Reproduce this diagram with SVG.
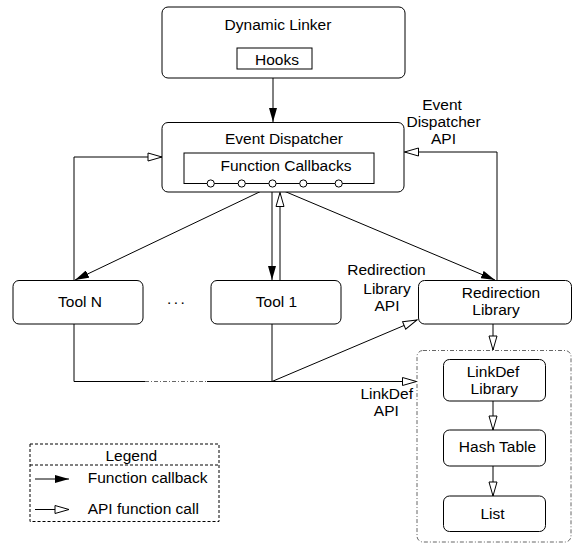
<svg xmlns="http://www.w3.org/2000/svg" width="572" height="544" viewBox="0 0 572 544">
<defs>
<style>
.box{fill:#fff;stroke:#000;stroke-width:1}
.ln{fill:none;stroke:#000;stroke-width:1}
.dd{fill:none;stroke:#666;stroke-width:1;stroke-dasharray:4 2 1 2}
.dash{fill:none;stroke:#000;stroke-width:1;stroke-dasharray:3 2}
text{font-family:"Liberation Sans",Arial,sans-serif;font-size:15.5px;fill:#000}
.c{text-anchor:middle}
.cb{fill:#fff;stroke:#000;stroke-width:1}
</style>
<marker id="fa" viewBox="0 0 14 8" refX="14" refY="4" markerWidth="14" markerHeight="8" orient="auto" markerUnits="userSpaceOnUse"><path d="M0,0 L14,4 L0,8 z" fill="#000"/></marker>
<marker id="oa" viewBox="-1 -1 16 10" refX="14" refY="4" markerWidth="16" markerHeight="10" orient="auto" markerUnits="userSpaceOnUse"><path d="M0,0 L14,4 L0,8 z" fill="#fff" stroke="#000" stroke-width="1"/></marker>
</defs>

<g id="linkdef-container"><rect x="417" y="350.5" width="154" height="191.5" rx="6" class="dd"/></g>

<g id="connectors">
<path class="ln" d="M273,69 V122" marker-end="url(#fa)"/>
<path class="ln" d="M272,186 L75,280" marker-end="url(#fa)"/>
<path class="ln" d="M272,187 V280" marker-end="url(#fa)"/>
<path class="ln" d="M272,186 L495,280" marker-end="url(#fa)"/>
<path class="ln" d="M280,280 V192.5" marker-end="url(#oa)"/>
<path class="ln" d="M74,280 V157 H162" marker-end="url(#oa)"/>
<path class="ln" d="M497,280 V152 H404.5" marker-end="url(#oa)"/>
<path class="ln" d="M74,324 V381.5 H145"/>
<path class="dd" d="M145,381.5 H207"/>
<path class="ln" d="M207,381.5 H416.5" marker-end="url(#oa)"/>
<path class="ln" d="M272,324 V381.5"/>
<path class="ln" d="M272,381.5 L417,320" marker-end="url(#oa)"/>
<path class="ln" d="M493,324 V350" marker-end="url(#oa)"/>
<path class="ln" d="M493,401 V430" marker-end="url(#oa)"/>
<path class="ln" d="M493,466 V496" marker-end="url(#oa)"/>
</g>

<g id="dynamic-linker">
<rect x="162" y="7" width="243" height="71" rx="6" class="box"/>
<text x="278" y="29.5" class="c">Dynamic Linker</text>
<rect x="237" y="48" width="75" height="21" class="box"/>
<text x="277" y="64.5" class="c">Hooks</text>
</g>

<g id="event-dispatcher">
<rect x="162" y="122.5" width="242" height="69.5" rx="6" class="box"/>
<text x="284" y="144" class="c">Event Dispatcher</text>
<rect x="184" y="153" width="190" height="30.5" class="box"/>
<text x="286" y="171" class="c">Function Callbacks</text>
<circle cx="210.7" cy="183.5" r="3.6" class="cb"/>
<circle cx="241.7" cy="183.5" r="3.6" class="cb"/>
<circle cx="272.5" cy="183.5" r="3.6" class="cb"/>
<circle cx="303.3" cy="183.5" r="3.6" class="cb"/>
<circle cx="338.7" cy="183.5" r="3.6" class="cb"/>
</g>

<g id="ed-api-label">
<text x="442" y="109.5" class="c">Event</text>
<text x="443.5" y="127" class="c">Dispatcher</text>
<text x="443.5" y="143.5" class="c">API</text>
</g>

<g id="tool-n">
<rect x="13" y="280.5" width="130" height="43.5" rx="6" class="box"/>
<text x="80" y="307" class="c">Tool N</text>
</g>
<g id="ellipsis"><text x="167" y="304" letter-spacing="2.5">...</text></g>
<g id="tool-1">
<rect x="211" y="280.5" width="130" height="43.5" rx="6" class="box"/>
<text x="276.5" y="307" class="c">Tool 1</text>
</g>

<g id="rl-api-label">
<text x="386.5" y="275" class="c">Redirection</text>
<text x="387" y="293.5" class="c">Library</text>
<text x="387" y="311" class="c">API</text>
</g>

<g id="redirection-library">
<rect x="418.5" y="280.5" width="153" height="43.5" rx="6" class="box"/>
<text x="501" y="297.5" class="c">Redirection</text>
<text x="496" y="315" class="c">Library</text>
</g>

<g id="linkdef-api-label">
<text x="386.7" y="398.5" class="c">LinkDef</text>
<text x="386.3" y="416" class="c">API</text>
</g>

<g id="linkdef-library">
<rect x="443.5" y="359.5" width="102" height="41.5" rx="6" class="box"/>
<text x="493" y="377" class="c">LinkDef</text>
<text x="494.3" y="394" class="c">Library</text>
</g>
<g id="hash-table">
<rect x="443.5" y="430" width="102" height="36" rx="6" class="box"/>
<text x="497.5" y="452" class="c">Hash Table</text>
</g>
<g id="list">
<rect x="443.5" y="496" width="102" height="35.5" rx="6" class="box"/>
<text x="492.5" y="518.5" class="c">List</text>
</g>

<g id="legend">
<rect x="30" y="444" width="189" height="77.5" class="dash"/>
<path class="dash" d="M30,465 H219"/>
<text x="131.3" y="461" class="c">Legend</text>
<path class="ln" d="M35,479 H69" marker-end="url(#fa)"/>
<text x="87.7" y="483">Function callback</text>
<path class="ln" d="M35,509.5 H69" marker-end="url(#oa)"/>
<text x="87.7" y="513.5">API function call</text>
</g>
</svg>
